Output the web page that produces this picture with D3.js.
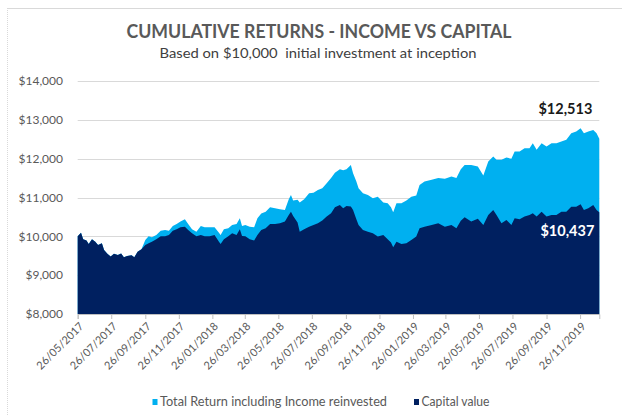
<!DOCTYPE html>
<html>
<head>
<meta charset="utf-8">
<script src="https://cdn.jsdelivr.net/npm/d3@7"></script>
<style>
  body { margin: 0; background: #fff; }
  svg { display: block; font-family: Lato, "Open Sans", sans-serif; }
</style>
</head>
<body>
<svg id="chart" width="622" height="416"></svg>
<script>
var width = 622;
var height = 416;

// ---------------------------------------------------------------------------
// data
// ---------------------------------------------------------------------------
var dates = [
  "2017-05-26","2017-06-01","2017-06-05","2017-06-11","2017-06-15","2017-06-21","2017-06-27","2017-07-02",
  "2017-07-09","2017-07-13","2017-07-19","2017-07-25","2017-07-31","2017-08-07","2017-08-13","2017-08-18",
  "2017-08-24","2017-09-01","2017-09-06","2017-09-12","2017-09-19","2017-09-26","2017-10-02","2017-10-08",
  "2017-10-16","2017-10-24","2017-11-01","2017-11-08","2017-11-15","2017-11-22","2017-11-29","2017-12-07",
  "2017-12-13","2017-12-20","2017-12-28","2018-01-05","2018-01-12","2018-01-21","2018-01-30","2018-02-07",
  "2018-02-10","2018-02-16","2018-02-24","2018-03-03","2018-03-11","2018-03-17","2018-03-21","2018-03-27",
  "2018-04-04","2018-04-12","2018-04-18","2018-04-25","2018-05-03","2018-05-11","2018-05-20","2018-05-29",
  "2018-06-07","2018-06-14","2018-06-18","2018-06-22","2018-06-30","2018-07-04","2018-07-12","2018-07-21",
  "2018-07-29","2018-08-06","2018-08-14","2018-08-22","2018-08-30","2018-09-06","2018-09-15","2018-09-21",
  "2018-09-27","2018-10-05","2018-10-09","2018-10-15","2018-10-19","2018-10-27","2018-11-05","2018-11-14",
  "2018-11-23","2018-12-03","2018-12-11","2018-12-17","2018-12-21","2018-12-27","2019-01-05","2019-01-14",
  "2019-01-23","2019-02-01","2019-02-07","2019-02-16","2019-03-01","2019-03-13","2019-03-25","2019-04-06",
  "2019-04-15","2019-04-23","2019-04-30","2019-05-12","2019-05-24","2019-06-03","2019-06-12","2019-06-21",
  "2019-06-27","2019-07-06","2019-07-15","2019-07-24","2019-07-30","2019-08-08","2019-08-17","2019-08-26",
  "2019-09-01","2019-09-08","2019-09-17","2019-09-26","2019-10-05","2019-10-14","2019-10-23","2019-11-01",
  "2019-11-10","2019-11-19","2019-11-27","2019-12-03","2019-12-11","2019-12-20","2019-12-26","2019-12-31"
];

var totalReturn = [
  10000,10090,9925,9890,9800,9925,9860,9780,
  9820,9650,9550,9480,9550,9520,9560,9460,
  9495,9510,9460,9605,9665,9905,10000,9975,
  10035,10145,10165,10145,10265,10320,10380,10440,
  10320,10180,10120,10265,10235,10235,10235,10095,
  10035,10180,10210,10295,10320,10465,10265,10295,
  10250,10235,10465,10590,10635,10750,10720,10695,
  10680,10955,11065,10920,10940,10870,10955,11110,
  11125,11195,11240,11370,11500,11640,11730,11700,
  11730,11840,11625,11410,11240,11110,11065,10980,
  11020,10870,10850,10750,10620,10850,10850,10920,
  11020,11050,11325,11410,11455,11500,11480,11540,
  11500,11730,11840,11840,11800,11565,11925,12055,
  11970,11970,12030,12000,12185,12185,12270,12270,
  12400,12230,12400,12315,12400,12400,12440,12485,
  12655,12700,12785,12655,12700,12740,12655,12513
];

var capitalValue = [
  10000,10090,9925,9890,9800,9925,9860,9780,
  9820,9650,9550,9480,9550,9520,9560,9460,
  9495,9510,9460,9605,9665,9780,9820,9860,
  9925,10000,10000,10035,10145,10180,10235,10250,
  10165,10080,10000,10035,10000,10000,10035,9860,
  9800,9925,10000,10080,10035,10180,10010,10000,
  9925,9890,10035,10165,10210,10320,10320,10335,
  10380,10550,10635,10525,10355,10120,10180,10250,
  10295,10335,10405,10510,10595,10750,10810,10720,
  10780,10770,10680,10440,10295,10165,10120,10080,
  9995,10035,9925,9840,9720,9860,9800,9820,
  9905,9995,10210,10250,10295,10335,10250,10295,
  10210,10400,10490,10380,10450,10295,10550,10680,
  10550,10335,10420,10295,10465,10440,10510,10550,
  10595,10510,10635,10510,10550,10550,10635,10635,
  10765,10765,10825,10680,10720,10810,10680,10620
];

var yTicks = [8000, 9000, 10000, 11000, 12000, 13000, 14000];
var xTickDates = [
  "2017-05-26","2017-07-26","2017-09-26","2017-11-26","2018-01-26","2018-03-26",
  "2018-05-26","2018-07-26","2018-09-26","2018-11-26","2019-01-26","2019-03-26",
  "2019-05-26","2019-07-26","2019-09-26","2019-11-26"
];
var seriesNames = ["Total Return including Income reinvested", "Capital value"];
var seriesColors = ["#00b0f0", "#002060"];
var totalLabel = "$12,513";
var capitalLabel = "$10,437";

// ---------------------------------------------------------------------------
// setup
// ---------------------------------------------------------------------------
var parseDate = d3.timeParse("%Y-%m-%d");
var fmtTick = d3.timeFormat("%d/%m/%Y");
var fmtMoney = function(v) { return "$" + d3.format(",")(v); };

var rows = dates.map(function(d, i) {
  return { date: parseDate(d), total: totalReturn[i], capital: capitalValue[i] };
});

var plot = { left: 77.7, right: 599.3, top: 81, bottom: 314 };

var x = d3.scaleTime()
  .domain(d3.extent(rows, function(d) { return d.date; }))
  .range([plot.left, plot.right]);

var y = d3.scaleLinear()
  .domain([8000, 14000])
  .range([plot.bottom, plot.top]);

var svg = d3.select("#chart");

// chart frame (top + left edge of the pasted Excel chart)
svg.append("line").attr("x1", 7).attr("x2", width).attr("y1", 8.5).attr("y2", 8.5)
  .attr("stroke", "#d9d9d9");
svg.append("line").attr("x1", 7.5).attr("x2", 7.5).attr("y1", 8).attr("y2", height)
  .attr("stroke", "#d9d9d9").attr("stroke-dasharray", "1,1");

// titles
svg.append("text")
  .attr("x", 319).attr("y", 38)
  .attr("text-anchor", "middle")
  .attr("font-size", 18).attr("font-weight", "bold")
  .attr("fill", "#595959")
  .attr("textLength", 385).attr("lengthAdjust", "spacingAndGlyphs")
  .text("CUMULATIVE RETURNS - INCOME VS CAPITAL");

svg.append("text")
  .attr("x", 318).attr("y", 58)
  .attr("text-anchor", "middle")
  .attr("font-size", 14)
  .attr("fill", "#404040")
  .attr("textLength", 317).attr("lengthAdjust", "spacingAndGlyphs")
  .style("white-space", "pre")
  .text("Based on $10,000  initial investment at inception");

// gridlines + y labels
var yAxis = svg.append("g");
yAxis.selectAll("line.grid")
  .data(yTicks)
  .enter().append("line")
  .attr("class", "grid")
  .attr("x1", plot.left).attr("x2", plot.right)
  .attr("y1", function(d) { return Math.round(y(d)) + 0.5; })
  .attr("y2", function(d) { return Math.round(y(d)) + 0.5; })
  .attr("stroke", "#d9d9d9");

yAxis.selectAll("text")
  .data(yTicks)
  .enter().append("text")
  .attr("x", 63)
  .attr("y", function(d) { return y(d); })
  .attr("dy", "0.35em")
  .attr("text-anchor", "end")
  .attr("font-size", 12)
  .attr("fill", "#595959")
  .text(fmtMoney);

// areas
var areaTotal = d3.area()
  .x(function(d) { return x(d.date); })
  .y0(y(8000))
  .y1(function(d) { return y(d.total); });

var areaCapital = d3.area()
  .x(function(d) { return x(d.date); })
  .y0(y(8000))
  .y1(function(d) { return y(d.capital); });

svg.append("path").datum(rows).attr("d", areaTotal).attr("fill", seriesColors[0]);
svg.append("path").datum(rows).attr("d", areaCapital).attr("fill", seriesColors[1]);

// x axis
var xAxis = svg.append("g")
  .attr("transform", "translate(0," + plot.bottom + ")")
  .call(d3.axisBottom(x)
    .tickValues(xTickDates.map(parseDate))
    .tickSize(5)
    .tickFormat(fmtTick));
xAxis.select(".domain").attr("stroke", "#bfbfbf");
xAxis.selectAll(".tick line").attr("stroke", "#bfbfbf");
xAxis.selectAll(".tick text")
  .attr("font-family", "Lato, sans-serif")
  .attr("font-size", 11)
  .attr("fill", "#595959")
  .attr("text-anchor", "end")
  .attr("dy", null)
  .attr("y", 0)
  .attr("transform", "translate(6,13) rotate(-45)");

// end-value labels
var last = rows[rows.length - 1];
svg.append("text")
  .attr("x", x(last.date) - 7)
  .attr("y", y(last.total) - 25)
  .attr("text-anchor", "end")
  .attr("font-size", 14.5).attr("font-weight", "bold")
  .attr("fill", "#1a1a1a")
  .text(totalLabel);

svg.append("text")
  .attr("x", x(last.date) - 5)
  .attr("y", y(last.capital) + 24)
  .attr("text-anchor", "end")
  .attr("font-size", 14.5).attr("font-weight", "bold")
  .attr("fill", "#ffffff")
  .text(capitalLabel);

// legend
var legendX = [152.5, 414];
var legendW = [227, 68];
var legend = svg.selectAll("g.legend")
  .data(seriesNames)
  .enter().append("g")
  .attr("class", "legend")
  .attr("transform", function(d, i) { return "translate(" + legendX[i] + ",402)"; });
legend.append("rect")
  .attr("x", 0).attr("y", -3).attr("width", 5).attr("height", 6)
  .attr("fill", function(d, i) { return seriesColors[i]; });
legend.append("text")
  .attr("x", 7.5).attr("dy", "0.35em")
  .attr("font-size", 12.5)
  .attr("fill", "#595959")
  .attr("textLength", function(d, i) { return legendW[i]; })
  .attr("lengthAdjust", "spacingAndGlyphs")
  .text(function(d) { return d; });
</script>
</body>
</html>
